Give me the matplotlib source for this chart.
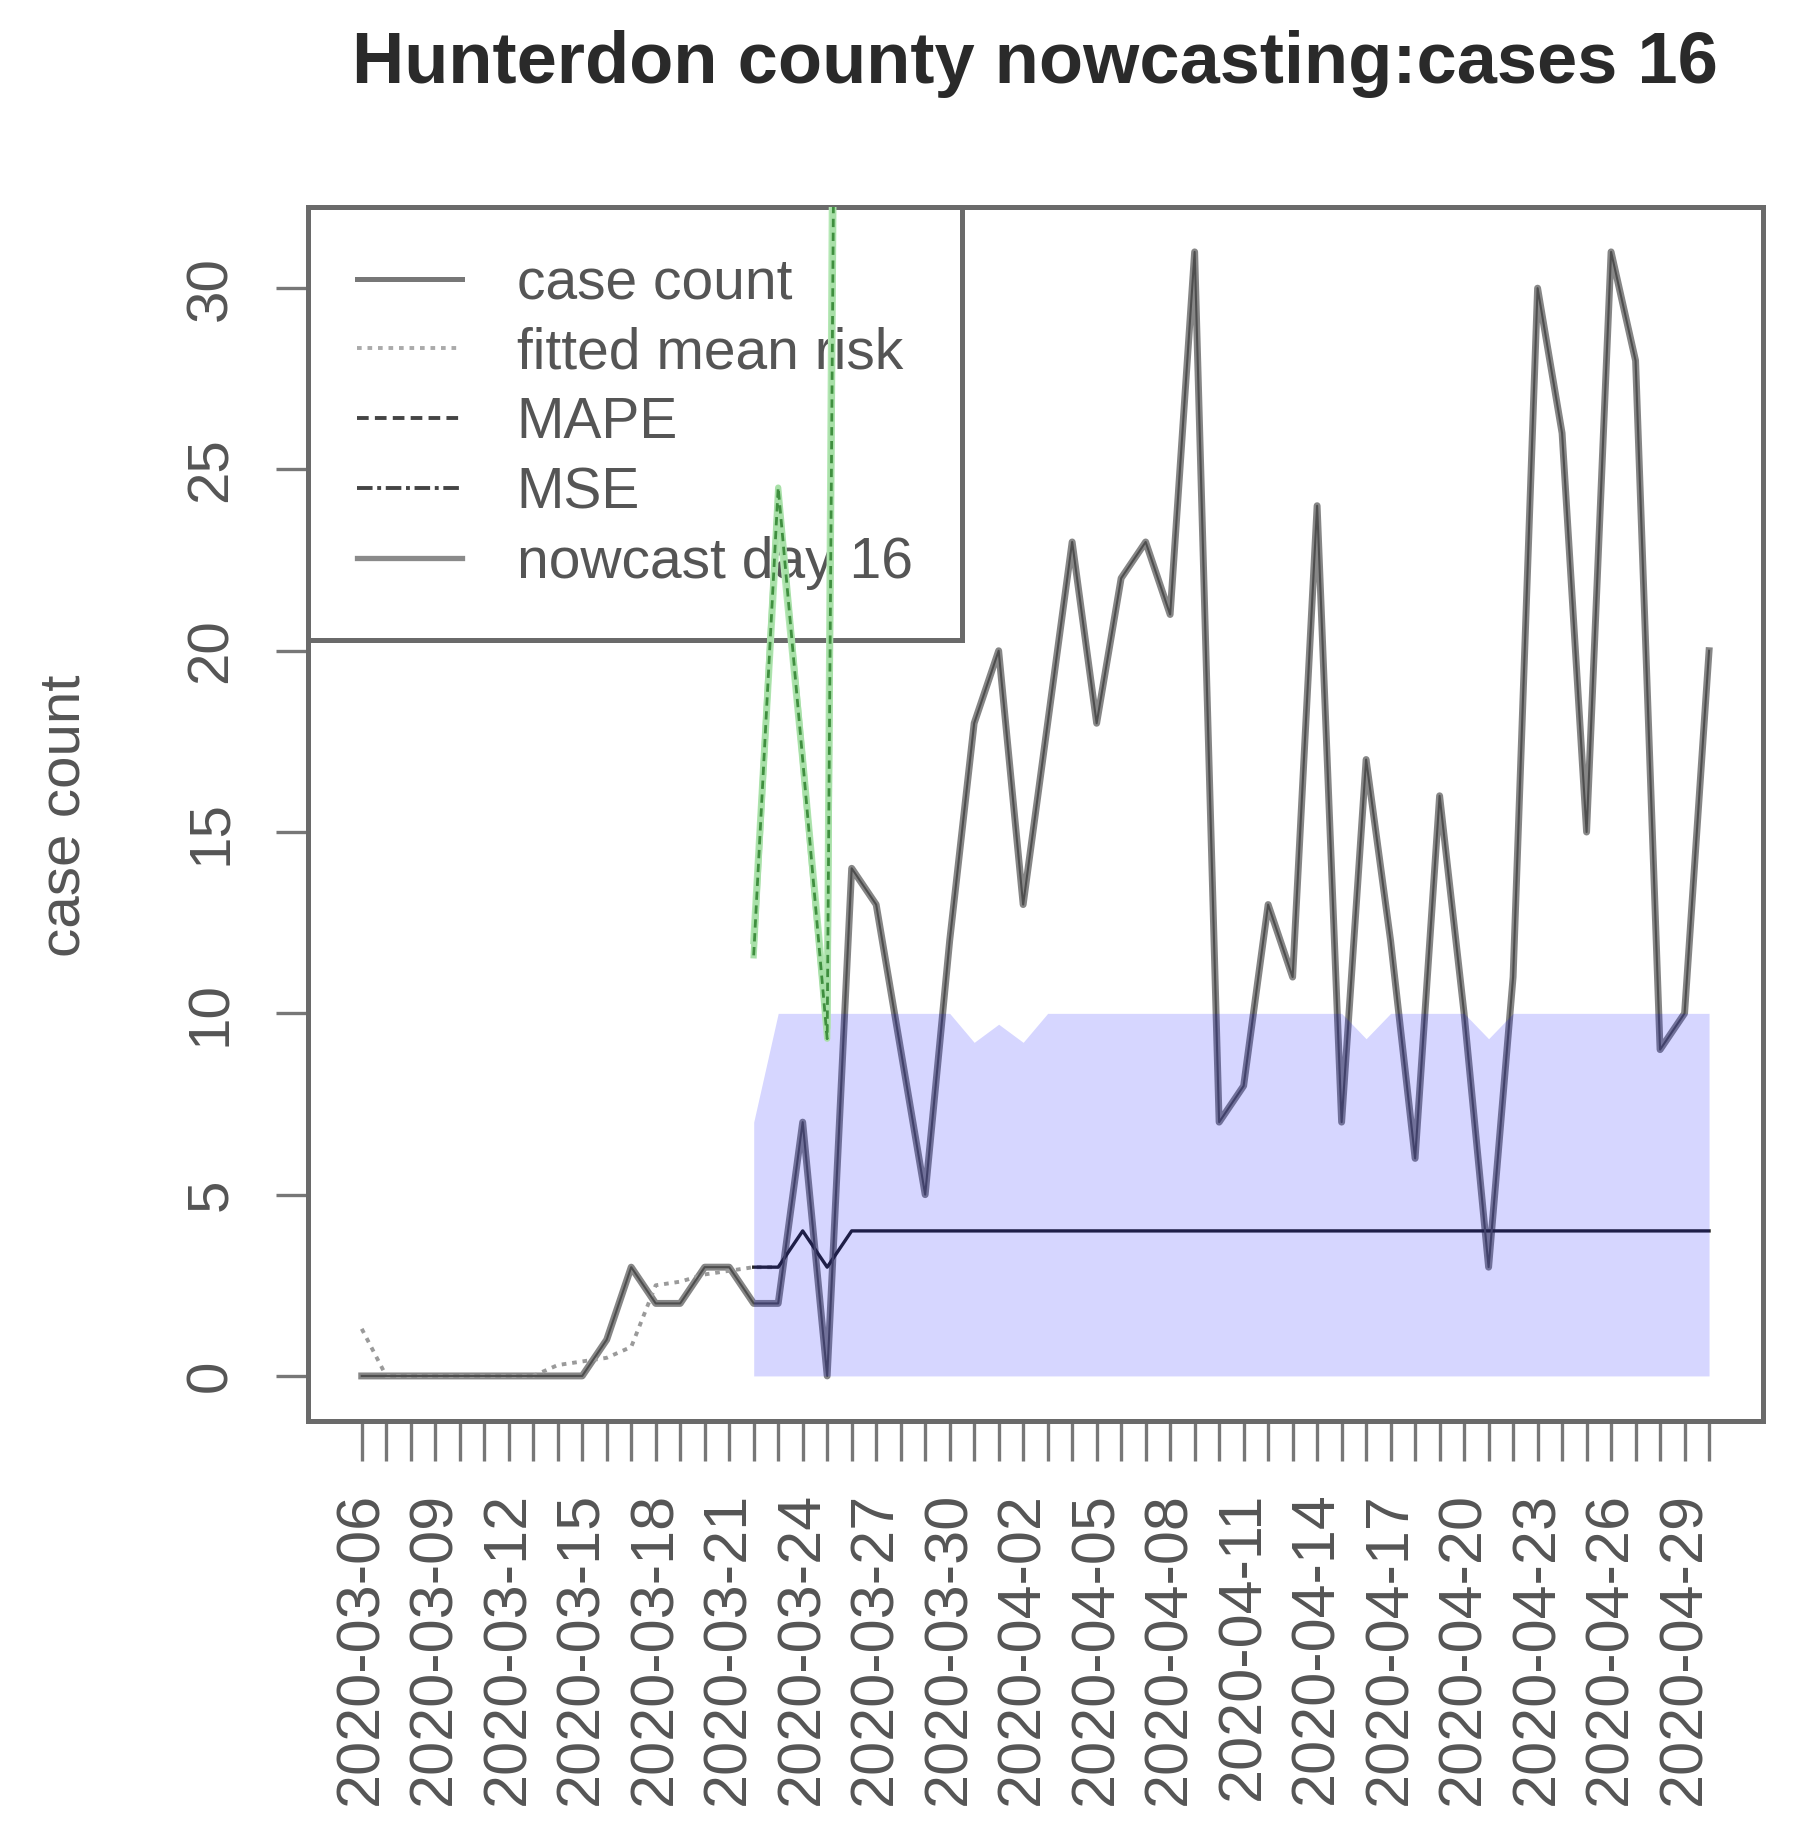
import numpy as np
import pandas as pd
import matplotlib
matplotlib.use("Agg")
import matplotlib.pyplot as plt
from matplotlib.lines import Line2D

plt.rcParams['font.family'] = ['Liberation Sans', 'DejaVu Sans']

# ---------------- data ----------------
dates = pd.date_range("2020-03-06", "2020-04-30", freq="D").strftime("%Y-%m-%d").tolist()

case_count = [0, 0, 0, 0, 0, 0, 0, 0, 0, 0,
              1, 3, 2, 2, 3, 3, 2, 2, 7, 0,
              14, 13, 9, 5, 12, 18, 20, 13, 18, 23,
              18, 22, 23, 21, 31, 7, 8, 13, 11, 24,
              7, 17, 12, 6, 16, 10, 3, 11, 30, 26,
              15, 31, 28, 9, 10, 20]

fitted_mean_risk = [1.3, 0, 0, 0, 0, 0, 0, 0, 0.3, 0.4,
                    0.5, 0.8, 2.5, 2.6, 2.8, 2.9, 3.0, 3.0]

nowcast_start = 16
nowcast = [3, 3, 4, 3] + [4] * 36
band_upper = [7, 10, 10, 10, 10, 10, 10, 10, 10, 9.2,
              9.7, 9.2, 10, 10, 10, 10, 10, 10, 10, 10,
              10, 10, 10, 10, 10, 9.3, 10, 10, 10, 10,
              9.3, 10, 10, 10, 10, 10, 10, 10, 10, 10]
band_lower = [0] * 40

mape_green = [11.6, 24.5, 17, 9.3, 100]
mse_green = [12, 24, 17, 9.6, 120]

legend_labels = ["case count", "fitted mean risk", "MAPE", "MSE", "nowcast day 16"]
title = "Hunterdon county nowcasting:cases 16"
ylabel = "case count"

# ---------------- figure ----------------
fig = plt.figure(figsize=(18.13, 18.28), dpi=100)
ax = fig.add_axes([0.1698, 0.2227, 0.8026, 0.6641])

x = np.arange(len(dates))
xn = np.arange(nowcast_start, nowcast_start + len(nowcast))
xg = np.arange(nowcast_start, nowcast_start + len(mape_green))
xf = np.arange(len(fitted_mean_risk))

ax.plot(x, case_count, color="#868686", lw=5.0, zorder=2)
ax.plot(x, case_count, color="#4e4e4e", lw=1.5, zorder=2.1)
ax.plot(xf, fitted_mean_risk, color="#9a9a9a", lw=2.8, ls=(0, (1.2, 1.5)), zorder=2)
ax.plot(xn, nowcast, color="#252525", lw=2.4, zorder=2)
ax.fill_between(xn, band_lower, band_upper, color=(0, 0, 1, 0.16), lw=0, zorder=2.5)

ax.plot(xg, mse_green, color="#b5e8b5", lw=5.0, zorder=3)
ax.plot(xg, mape_green, color="#a8e0a8", lw=4.5, zorder=3.05)
ax.plot(xg, mape_green, color="#3f8f3f", lw=2.0, ls=(0, (3, 2)), zorder=3.1)

ax.set_xlim(-2.2, 57.2)
ax.set_ylim(-1.24, 32.24)

# ticks
ax.set_xticks(x)
ax.set_xticklabels([d if i % 3 == 0 else "" for i, d in enumerate(dates)],
                   rotation=90, ha="center", va="top")
ax.set_yticks([0, 5, 10, 15, 20, 25, 30])
ax.set_yticklabels(["0", "5", "10", "15", "20", "25", "30"], rotation=90, va="center")
ax.tick_params(axis="x", length=29, width=2.4, color="#777777", pad=22,
               labelsize=44, labelcolor="#555555")
ax.tick_params(axis="y", length=23, width=2.4, color="#777777", pad=27,
               labelsize=42, labelcolor="#555555")

for s in ax.spines.values():
    s.set_color("#6a6a6a")
    s.set_linewidth(3.6)

# legend
handles = [
    Line2D([], [], color="#777777", lw=3.6),
    Line2D([], [], color="#aaaaaa", lw=2.8, ls=(0, (1.2, 1.5))),
    Line2D([], [], color="#444444", lw=2.8, ls=(0, (3, 1.6))),
    Line2D([], [], color="#444444", lw=2.8, ls=(0, (4, 1.2, 1, 1.2))),
    Line2D([], [], color="#8a8a8a", lw=3.8),
]
leg = ax.legend(handles, legend_labels, loc="upper left", bbox_to_anchor=(0, 1),
                borderaxespad=0, fancybox=False, frameon=True, fontsize=41,
                handlelength=1.84, handletextpad=0.96, borderpad=0.87,
                labelspacing=0.28, framealpha=1, edgecolor="#6a6a6a")
leg.get_frame().set_linewidth(3.6)
for t in leg.get_texts():
    t.set_color("#555555")
leg.set_zorder(1.5)

fig.text(1035 / 1813, 1 - 64 / 1828, title, ha="center", va="center",
         fontsize=52, fontweight="bold", color="#2a2a2a")
fig.text(64 / 1813, 1 - 816 / 1828, ylabel, ha="center", va="center",
         rotation=90, fontsize=42, color="#555555")

fig.savefig("out.png", dpi=100, facecolor="white")
